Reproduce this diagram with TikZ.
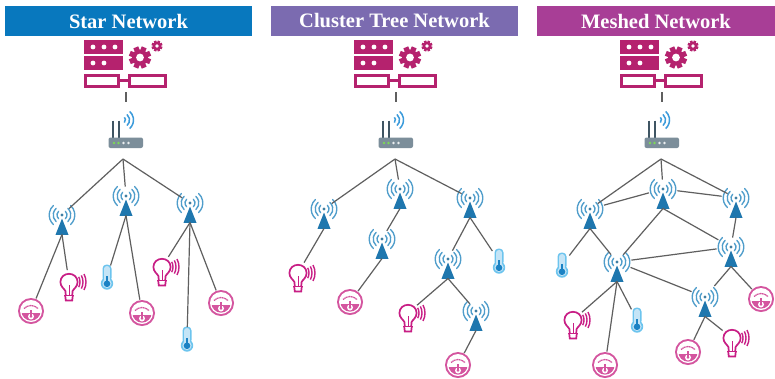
\documentclass[tikz,border=0pt]{standalone}
\usepackage{fontspec}
\setmainfont{Liberation Serif}
\definecolor{hblue}{HTML}{0878BE}
\definecolor{hpurple}{HTML}{7B6BB0}
\definecolor{hmag}{HTML}{A83E96}
\definecolor{srv}{HTML}{B5226E}
\definecolor{towerc}{HTML}{1F77AE}
\definecolor{wavec}{HTML}{4F9DCB}
\definecolor{linkc}{HTML}{5F5F5F}
\definecolor{meterc}{HTML}{D4559F}
\definecolor{bulbc}{HTML}{C81E85}
\definecolor{thc}{HTML}{6CC4EE}
\definecolor{thf}{HTML}{C4E4F6}
\definecolor{thd}{HTML}{1B82C4}
\definecolor{routerc}{HTML}{7C8E9A}
\definecolor{antc}{HTML}{3F5563}
\definecolor{wific}{HTML}{3B9BDB}
\definecolor{ledc}{HTML}{7ED957}
\tikzset{
 hdr/.style={text=white,font=\bfseries\fontsize{20.5}{22}\selectfont,minimum height=30pt,inner sep=0pt,outer sep=0pt},
 hit/.style={circle,inner sep=0pt,outer sep=0pt,minimum size=#1},
 link/.style={draw=linkc,line width=1.2pt},
 wave/.style={draw=wavec,line width=1.35pt,line cap=round},
}
\newcommand\tower[3]{%
 \node[hit=19pt] (#1) at (#2,#3) {};
 \node[hit=29pt] (#1w) at (#2,#3) {};
 \coordinate (#1b) at (#2,{#3+19.5});
 \begin{scope}[shift={(#2,#3)}]
  \fill[towerc] (0,3.5) -- (6.5,19.8) -- (-6.5,19.8) -- cycle;
  \fill[wavec!80!black] (0,0) circle (1.7);
  \foreach \r in {5,8.8,12.8}{
   \draw[wave] ({\r*cos(48)},{\r*sin(48)}) arc (48:-48:\r);
   \draw[wave] ({-\r*cos(48)},{\r*sin(48)}) arc (132:228:\r);
  }
 \end{scope}}
\newcommand\meter[3]{%
 \node[hit=27pt] (#1) at (#2,#3) {};
 \begin{scope}[shift={(#2,#3)}]
  \fill[meterc] (0,0) circle (13);
  \fill[white] (0,0) circle (11);
  \begin{scope}
   \clip (0,0) circle (9.6);
   \fill[meterc] (-11,1.5) rectangle (11,11);
  \end{scope}
  \fill[white] (0,5.5) circle (3);
  \fill[meterc] (0,5.5) circle (1.3);
  \draw[meterc,line width=1.2pt] (0,5.5) -- (0,-1.5);
  \draw[meterc,line width=1.3pt,dash pattern=on 1.2pt off 0.5pt] (-7,-2.5) .. controls (-3,-6.5) and (3,-6.5) .. (7,-2.5);
 \end{scope}}
\newcommand\bulb[3]{%
 \node[hit=24pt] (#1) at (#2,#3) {};
 \begin{scope}[shift={(#2,#3)},line width=1.7pt]
  \draw[bulbc] (-3.2,13.5) -- (-3.6,9) .. controls (-5,6.5) and (-8.6,4.5) .. (-8.6,0) .. controls (-8.6,-5) and (-4.5,-8.2) .. (0,-8.2) .. controls (4.5,-8.2) and (8.6,-5) .. (8.6,0) .. controls (8.6,4.5) and (5,6.5) .. (3.6,9) -- (3.2,13.5);
  \draw[bulbc] (-4.6,13.5) -- (4.6,13.5);
  \draw[bulbc] (-3.8,13.5) -- (-3.2,18.5) -- (3.2,18.5) -- (3.8,13.5);
  \draw[bulbc,line width=1pt] (0,3) -- (0,13);
  \foreach \r in {11,14,17}{
   \draw[bulbc,line width=1.4pt] ({\r*cos(28)},{\r*sin(28)}) arc (28:-28:\r);
  }
 \end{scope}}
\newcommand\thermo[3]{%
 \node[hit=24pt] (#1) at (#2,#3) {};
 \begin{scope}[shift={(#2,#3)}]
  \fill[thc,rounded corners=4pt] (-4.5,-12.5) rectangle (4.5,5);
  \fill[thc] (0,6.5) circle (6.2);
  \fill[thf,rounded corners=2.5pt] (-2.9,-10.9) rectangle (2.9,5);
  \fill[thf] (0,6.5) circle (4.6);
  \fill[thd] (0,6.8) circle (3.3);
  \fill[thd] (-1.1,-1) rectangle (1.1,6);
 \end{scope}}
\newcommand\gearshape[3]{%
 \begin{scope}[shift={(#1,#2)},scale=#3]
  \fill[srv] (0,0) circle (8);
  \foreach \a in {0,45,...,315}{\fill[srv,rotate=\a+22.5] (-2.6,5) rectangle (2.6,11);}
  \fill[white] (0,0) circle (3.9);
 \end{scope}}
\newcommand\station[2]{%
 \begin{scope}[shift={(#1,0)}]
  \fill[srv] (84,40) rectangle (123,54);
  \fill[srv] (84,56) rectangle (123,70);
  \foreach \x in {93,104,115}{\fill[white] (\x,47) circle (2.4);}
  \foreach \x in {93,104}{\fill[white] (\x,63) circle (2.4);}
  \draw[srv,line width=3pt,fill=white] (85.5,75) rectangle (118.7,86);
  \draw[srv,line width=3pt,fill=white] (129.5,75) rectangle (165.5,86);
  \draw[srv,line width=2.5pt] (118.7,80.5) -- (129.5,80.5);
  \gearshape{140}{57.5}{1}
  \gearshape{157}{46}{0.5}
  \draw[antc,line width=1.7pt] (113,120.5) -- (113,138);
  \draw[antc,line width=1.7pt] (119,120.5) -- (119,138);
  \fill[routerc,rounded corners=2pt] (108.5,137.5) rectangle (143,148);
  \fill[ledc] (114,143) circle (1.4) (118.5,143) circle (1.4);
  \fill[white!85!routerc] (123.5,143) circle (1.4) (128.5,143) circle (1.4);
  \foreach \r in {3.5,7.5,11.5}{
   \draw[wific,line width=1.5pt] ({122+\r*cos(48)},{120+\r*sin(48)}) arc (48:-48:\r);
  }
 \end{scope}}
\begin{document}
\begin{tikzpicture}[x=1pt,y=-1pt]
\useasboundingbox (0,0) rectangle (775,378);
\fill[white] (0,0) rectangle (775,378);
\node[hdr,fill=hblue,minimum width=247pt] (hs) at (128.5,21) {Star Network};
\node[hdr,fill=hpurple,minimum width=247pt] (hc) at (394.5,21) {Cluster Tree Network};
\node[hdr,fill=hmag,minimum width=238pt] (hm) at (656,21) {Meshed Network};
\station{0}{s}
\station{270}{c}
\station{536}{m}
\foreach \n/\x in {s/126,c/396,m/662}{
 \coordinate (\n top) at (\x,92);
 \coordinate (\n bot) at (\x,102);
 \draw[link] (\n top) -- (\n bot);
}
\coordinate (rs) at (123,159);
\coordinate (rc) at (395,159);
\coordinate (rm) at (661,159);
% ---- star
\tower{s1}{62}{215}
\tower{s2}{126}{196}
\tower{s3}{190}{203}
\meter{sm1}{31}{311}
\meter{sm2}{142}{313}
\meter{sm3}{221}{303}
\bulb{sb1}{69}{282}
\bulb{sb2}{162}{267}
\thermo{st1}{107}{277}
\thermo{st2}{187}{339}
\draw[link] (rs) -- (s1);
\draw[link] (rs) -- (s2);
\draw[link] (rs) -- (s3);
\draw[link] (s1b) -- (sm1);
\draw[link] (s1b) -- (sb1);
\draw[link] (s2b) -- (st1);
\draw[link] (s2b) -- (sm2);
\draw[link] (s3b) -- (sb2);
\draw[link] (s3b) -- (st2);
\draw[link] (s3b) -- (sm3);
% ---- cluster
\tower{c1}{324}{209}
\tower{c2}{400}{189}
\tower{c3}{470}{198}
\tower{c4}{382}{239}
\tower{c5}{448}{259}
\tower{c6}{476}{311}
\bulb{cb1}{298}{273}
\bulb{cb2}{408}{313}
\meter{cm1}{350}{302}
\meter{cm2}{458}{365}
\thermo{ct1}{499}{261}
\draw[link] (rc) -- (c1);
\draw[link] (rc) -- (c2);
\draw[link] (rc) -- (c3);
\draw[link] (c1b) -- (cb1);
\draw[link] (c2b) -- (c4);
\draw[link] (c4b) -- (cm1);
\draw[link] (c3b) -- (c5);
\draw[link] (c3b) -- (ct1);
\draw[link] (c5b) -- (cb2);
\draw[link] (c5b) -- (c6);
\draw[link] (c6b) -- (cm2);
% ---- mesh
\tower{d1}{590}{209}
\tower{d2}{663}{189}
\tower{d3}{736}{198}
\tower{d4}{731}{247}
\tower{d5}{617}{262}
\tower{d6}{705}{297}
\thermo{dt1}{562}{265}
\thermo{dt2}{637}{320}
\bulb{db1}{573}{320}
\bulb{db2}{732}{338}
\meter{dm1}{605}{365}
\meter{dm2}{688}{352}
\meter{dm3}{761}{299}
\draw[link] (rm) -- (d1);
\draw[link] (rm) -- (d2);
\draw[link] (rm) -- (d3);
\draw[link] (d1w) -- (d2w);
\draw[link] (d2w) -- (d3w);
\draw[link] (d1b) -- (dt1);
\draw[link] (d1b) -- (d5);
\draw[link] (d2b) -- (d5);
\draw[link] (d2b) -- (d4w);
\draw[link] (d3b) -- (d4);
\draw[link] (d5w) -- (d4w);
\draw[link] (d5w) -- (d6w);
\draw[link] (d5b) -- (db1);
\draw[link] (d5b) -- (dm1);
\draw[link] (d5b) -- (dt2);
\draw[link] (d4b) -- (d6w);
\draw[link] (d4b) -- (dm3);
\draw[link] (d6b) -- (dm2);
\draw[link] (d6b) -- (db2);
\end{tikzpicture}
\end{document}
